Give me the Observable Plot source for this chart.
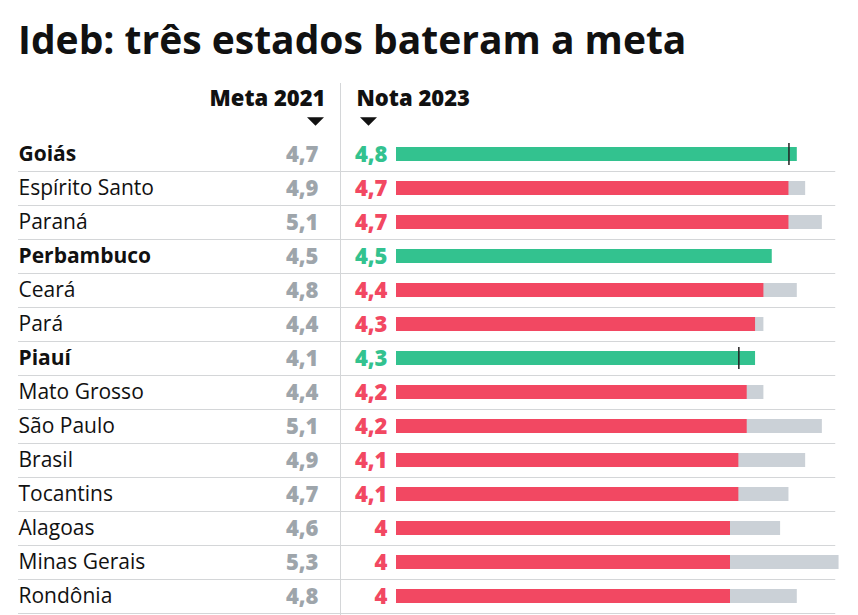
<!DOCTYPE html>
<html>
<head>
<meta charset="utf-8">
<script src="https://cdn.jsdelivr.net/npm/d3@7"></script>
<script src="https://cdn.jsdelivr.net/npm/@observablehq/plot@0.6"></script>
<style>
  html, body { margin: 0; padding: 0; background: #fff; }
  body { width: 858px; height: 615px; overflow: hidden; font-family: "Open Sans", sans-serif; }
  #title { box-sizing: border-box; height: 70px; padding: 19px 0 0 18px; font-size: 39px; line-height: 39px; font-weight: 700; color: #111; white-space: nowrap; }
  #chart svg { display: block; overflow: visible; }
</style>
</head>
<body>
<div id="title">Ideb: três estados bateram a meta</div>
<div id="chart"></div>
<script>
const states = ["Goiás","Espírito Santo","Paraná","Perbambuco","Ceará","Pará","Piauí","Mato Grosso","São Paulo","Brasil","Tocantins","Alagoas","Minas Gerais","Rondônia"];
const meta2021 = [4.7,4.9,5.1,4.5,4.8,4.4,4.1,4.4,5.1,4.9,4.7,4.6,5.3,4.8];
const nota2023 = [4.8,4.7,4.7,4.5,4.4,4.3,4.3,4.2,4.2,4.1,4.1,4.0,4.0,4.0];
const boldStates = ["Goiás","Perbambuco","Piauí"];
const headers = ["Meta 2021","Nota 2023"];

const GREEN = "#33c28f", RED = "#f24862", GRAYBAR = "#cbd1d7", GRAYTXT = "#9ea5ab";
const data = states.map((s, i) => ({state: s, meta: meta2021[i], nota: nota2023[i], bold: boldStates.includes(s), hit: nota2023[i] >= meta2021[i]}));
const fmt = v => String(v).replace(".", ",");

const flatTri = {
  draw(ctx, size) {
    const r = Math.sqrt(size / Math.PI);
    ctx.moveTo(-r, -r / 2);
    ctx.lineTo(r, -r / 2);
    ctx.lineTo(0, r / 2);
    ctx.closePath();
  }
};

const chart = Plot.plot({
  width: 858,
  height: 545,
  marginLeft: 396,
  marginRight: 2.75,
  marginTop: 67,
  marginBottom: 2,
  x: {domain: [0, 5.5], axis: null},
  y: {domain: states, axis: null, padding: 0},
  style: {fontFamily: "'Open Sans', sans-serif", background: "white", overflow: "visible"},
  marks: [
    Plot.ruleY(data, {y: "state", dy: 17, insetLeft: -378, insetRight: 20, stroke: "#d4d6d8", strokeWidth: 1}),
    Plot.ruleX([0], {dx: -56, insetTop: -54, insetBottom: -2, stroke: "#d4d6d8", strokeWidth: 1}),
    Plot.text([headers[0]], {text: d => d, frameAnchor: "top-left", lineAnchor: "middle", dx: -71, dy: -39, textAnchor: "end", fontSize: 22, fontWeight: 800, fill: "#111"}),
    Plot.text([headers[1]], {text: d => d, frameAnchor: "top-left", lineAnchor: "middle", dx: -40, dy: -39, textAnchor: "start", fontSize: 22, fontWeight: 800, fill: "#111"}),
    Plot.dot([headers[0]], {frameAnchor: "top-left", dx: -81, dy: -16, symbol: flatTri, r: 8.5, fill: "#111", stroke: null}),
    Plot.dot([headers[1]], {frameAnchor: "top-left", dx: -28, dy: -16, symbol: flatTri, r: 8.5, fill: "#111", stroke: null}),
    Plot.barX(data.filter(d => d.meta > d.nota), {x: "meta", y: "state", fill: GRAYBAR, insetTop: 10, insetBottom: 10}),
    Plot.barX(data, {x: "nota", y: "state", fill: d => d.hit ? GREEN : RED, insetTop: 10, insetBottom: 10}),
    Plot.tickX(data.filter(d => d.nota > d.meta), {x: "meta", y: "state", stroke: "#222", strokeWidth: 1.5, insetTop: 6, insetBottom: 6}),
    Plot.text(data.filter(d => !d.bold), {y: "state", text: "state", frameAnchor: "left", dx: -378, textAnchor: "start", fontSize: 21, fontWeight: 400, fill: "#111"}),
    Plot.text(data.filter(d => d.bold), {y: "state", text: "state", frameAnchor: "left", dx: -378, textAnchor: "start", fontSize: 21, fontWeight: 700, fill: "#111"}),
    Plot.text(data, {y: "state", text: d => fmt(d.meta), frameAnchor: "left", dx: -78, textAnchor: "end", fontSize: 22, fontWeight: 800, fill: GRAYTXT}),
    Plot.text(data, {y: "state", text: d => fmt(d.nota), frameAnchor: "left", dx: -9, textAnchor: "end", fontSize: 22, fontWeight: 800, fill: d => d.hit ? GREEN : RED})
  ]
});
document.getElementById("chart").append(chart);
</script>
</body>
</html>
